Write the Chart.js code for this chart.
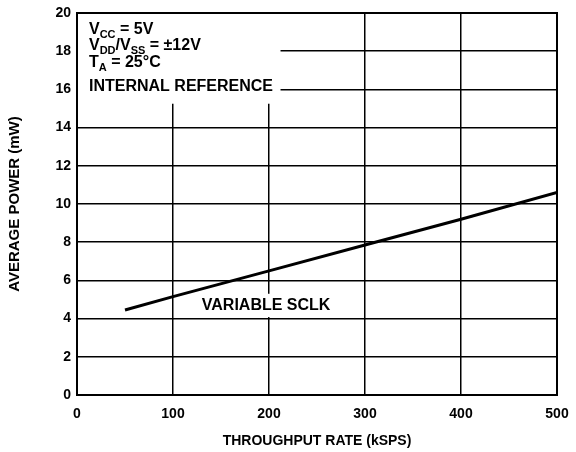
<!DOCTYPE html>
<html>
<head>
<meta charset="utf-8">
<script src="https://cdn.jsdelivr.net/npm/chart.js@4/dist/chart.umd.min.js"></script>
<style>
  html, body { margin: 0; padding: 0; background: #fff; }
  #wrap { width: 576px; height: 452px; position: relative; }
</style>
</head>
<body>
<div id="wrap"><canvas id="c" width="576" height="452"></canvas></div>
<script>
// Throughput rate (kSPS) and average power (mW), variable SCLK
const throughput = [50, 100, 200, 300, 400, 500];
const avgPower = [4.45, 5.15, 6.5, 7.85, 9.2, 10.6];

const xTicks = [0, 100, 200, 300, 400, 500];
const yTicks = [0, 2, 4, 6, 8, 10, 12, 14, 16, 18, 20];

const xTitle = 'THROUGHPUT RATE (kSPS)';
const yTitle = 'AVERAGE POWER (mW)';
const curveLabel = 'VARIABLE SCLK';
const conditions = [
  [['V', 0], ['CC', 1], [' = 5V', 0]],
  [['V', 0], ['DD', 1], ['/V', 0], ['SS', 1], [' = \u00B112V', 0]],
  [['T', 0], ['A', 1], [' = 25\u00B0C', 0]],
  [['INTERNAL REFERENCE', 0]]
];

const FONT = '"Liberation Sans", Arial, Helvetica, sans-serif';

// Frame plus the condition block and the curve label, each on a white patch
const notes = {
  id: 'notes',
  afterDatasetsDraw(chart) {
    const { ctx, chartArea: a, scales } = chart;
    const xs = scales.x, ys = scales.y;
    ctx.save();

    // condition block in the upper-left corner
    ctx.fillStyle = '#fff';
    const bx0 = a.left + 1, by0 = a.top + 1;
    const bx1 = xs.getPixelForValue(212), by1 = ys.getPixelForValue(15.25);
    ctx.fillRect(bx0, by0, bx1 - bx0, by1 - by0);

    ctx.fillStyle = '#000';
    ctx.textBaseline = 'alphabetic';
    ctx.textAlign = 'left';
    const baselines = [a.top + 20.5, a.top + 37, a.top + 53.5, a.top + 77.5];
    conditions.forEach((parts, i) => {
      let x = a.left + 12;
      parts.forEach(([txt, sub]) => {
        ctx.font = sub ? 'bold 11px ' + FONT : 'bold 16px ' + FONT;
        ctx.fillText(txt, x, baselines[i] + (sub ? 4 : 0));
        x += ctx.measureText(txt).width;
      });
    });

    // curve label
    ctx.font = 'bold 16px ' + FONT;
    const lx = xs.getPixelForValue(130);
    const lw = ctx.measureText(curveLabel).width;
    const ly = ys.getPixelForValue(4.45);
    ctx.fillStyle = '#fff';
    ctx.fillRect(lx - 4, ys.getPixelForValue(5.3), lw + 8, ys.getPixelForValue(4.08) - ys.getPixelForValue(5.3));
    ctx.fillStyle = '#000';
    ctx.fillText(curveLabel, lx, ly);

    // plot frame
    ctx.strokeStyle = '#000';
    ctx.lineWidth = 2;
    ctx.strokeRect(a.left, a.top, a.right - a.left, a.bottom - a.top);
    ctx.restore();
  }
};

new Chart(document.getElementById('c'), {
  type: 'line',
  data: {
    datasets: [{
      data: throughput.map((t, i) => ({ x: t, y: avgPower[i] })),
      borderColor: '#000',
      borderWidth: 3,
      pointRadius: 0,
      tension: 0,
      fill: false
    }]
  },
  options: {
    responsive: false,
    animation: false,
    layout: { padding: { top: 13, right: 19, left: 0, bottom: 0 } },
    plugins: { legend: { display: false }, tooltip: { enabled: false } },
    scales: {
      x: {
        type: 'linear',
        min: 0, max: 500,
        afterBuildTicks(s) { s.ticks = xTicks.map(v => ({ value: v })); },
        afterFit(s) { s.height = 57; s.paddingLeft = 0; s.paddingRight = 0; },
        grid: { color: '#000', lineWidth: 1.5, drawTicks: false },
        border: { color: '#000', width: 2 },
        ticks: { color: '#000', padding: 11, font: { family: FONT, size: 14, weight: 'bold' } },
        title: { display: true, text: xTitle, color: '#000', padding: { top: 0, bottom: 2 },
                 font: { family: FONT, size: 14, weight: 'bold' } }
      },
      y: {
        type: 'linear',
        min: 0, max: 20,
        afterBuildTicks(s) { s.ticks = yTicks.map(v => ({ value: v })); },
        afterFit(s) { s.width = 77; s.paddingTop = 0; s.paddingBottom = 0; },
        grid: { color: '#000', lineWidth: 1.5, drawTicks: false },
        border: { color: '#000', width: 2 },
        ticks: { color: '#000', padding: 6, font: { family: FONT, size: 14, weight: 'bold' } },
        title: { display: true, text: yTitle, color: '#000', padding: { top: 6, bottom: 0 },
                 font: { family: FONT, size: 15, weight: 'bold' } }
      }
    }
  },
  plugins: [notes]
});
</script>
</body>
</html>
